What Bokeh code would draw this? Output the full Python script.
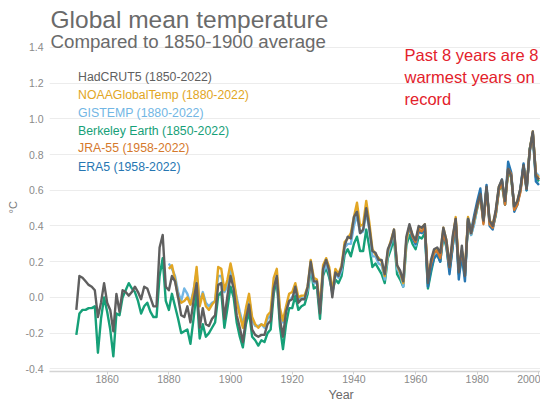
import math
from bokeh.plotting import figure
from bokeh.models import Range1d, FixedTicker, NumeralTickFormatter, Label, ColumnDataSource, Title
from bokeh.embed import file_html
from bokeh.resources import INLINE

# ---------------- data (anomaly vs 1850-1900, degC) ----------------
hadcrut5_years = list(range(1850, 2001))
hadcrut5 = [
    -0.07, 0.12, 0.11, 0.09, 0.07, 0.06, 0.04, -0.11, -0.03, 0.08,
    -0.03, -0.07, -0.19, 0.02, -0.08, 0.04, 0.03, 0.01, 0.03, 0.06,
    0.03, -0.01, 0.06, 0.05, 0.00, -0.05, -0.05, 0.28, 0.35, 0.06,
    0.04, 0.12, 0.09, 0.00, -0.10, -0.11, -0.05, -0.14, -0.02, 0.08,
    -0.17, -0.06, -0.15, -0.16, -0.12, -0.10, 0.07, 0.08, -0.12, 0.01,
    0.12, 0.05, -0.10, -0.17, -0.25, -0.12, -0.04, -0.18, -0.21, -0.22,
    -0.21, -0.21, -0.15, -0.13, 0.05, 0.12, -0.12, -0.22, -0.08, -0.02,
    -0.01, 0.06, -0.03, -0.01, -0.01, 0.06, 0.20, 0.09, 0.09, -0.09,
    0.16, 0.21, 0.15, 0.00, 0.14, 0.12, 0.17, 0.29, 0.34, 0.33,
    0.45, 0.48, 0.36, 0.38, 0.50, 0.39, 0.26, 0.25, 0.21, 0.21,
    0.13, 0.27, 0.31, 0.38, 0.18, 0.15, 0.09, 0.34, 0.41, 0.35,
    0.32, 0.40, 0.39, 0.41, 0.08, 0.21, 0.27, 0.28, 0.25, 0.39,
    0.32, 0.17, 0.34, 0.44, 0.14, 0.29, 0.12, 0.44, 0.36, 0.44,
    0.52, 0.58, 0.43, 0.62, 0.43, 0.40, 0.49, 0.62, 0.66, 0.54,
    0.72, 0.68, 0.51, 0.54, 0.61, 0.74, 0.61, 0.82, 0.93, 0.68,
    0.66,
]

berkeley_years = list(range(1850, 2001))
berkeley = [
    -0.21, -0.09, -0.07, -0.07, -0.06, -0.06, -0.05, -0.31, -0.12, 0.00,
    -0.08, -0.18, -0.33, -0.09, -0.10, 0.00, 0.04, 0.08, 0.05, 0.03,
    -0.02, -0.09, -0.05, -0.03, -0.08, -0.11, -0.11, 0.12, 0.22, -0.02,
    -0.07, 0.02, -0.05, -0.12, -0.20, -0.19, -0.18, -0.26, -0.12, 0.03,
    -0.23, -0.15, -0.22, -0.20, -0.17, -0.14, 0.01, 0.03, -0.17, -0.06,
    0.06, 0.00, -0.14, -0.22, -0.28, -0.15, -0.08, -0.22, -0.24, -0.27,
    -0.24, -0.25, -0.20, -0.18, 0.02, 0.10, -0.16, -0.29, -0.15, -0.06,
    -0.06, 0.01, -0.07, -0.05, -0.04, 0.02, 0.16, 0.05, 0.06, -0.12,
    0.12, 0.17, 0.11, 0.03, 0.10, 0.08, 0.12, 0.24, 0.27, 0.23,
    0.30, 0.34, 0.26, 0.26, 0.38, 0.28, 0.17, 0.19, 0.16, 0.13,
    0.08, 0.22, 0.27, 0.33, 0.13, 0.10, 0.06, 0.29, 0.35, 0.30,
    0.27, 0.34, 0.33, 0.36, 0.05, 0.14, 0.22, 0.24, 0.20, 0.35,
    0.28, 0.15, 0.28, 0.42, 0.13, 0.22, 0.12, 0.42, 0.35, 0.42,
    0.50, 0.57, 0.42, 0.61, 0.42, 0.39, 0.46, 0.60, 0.63, 0.52,
    0.71, 0.67, 0.50, 0.53, 0.60, 0.74, 0.60, 0.83, 0.91, 0.67,
    0.65,
]

noaa_years = list(range(1880, 2001))
noaa = [
    0.16, 0.18, 0.10, 0.00, -0.03, -0.02, 0.00, -0.04, 0.03, 0.17,
    -0.05, 0.02, -0.05, -0.07, -0.04, -0.02, 0.17, 0.16, 0.04, 0.10,
    0.19, 0.11, -0.02, -0.10, -0.17, -0.06, 0.02, -0.11, -0.15, -0.17,
    -0.15, -0.16, -0.10, -0.08, 0.11, 0.16, -0.06, -0.13, -0.05, 0.02,
    0.03, 0.08, 0.00, 0.01, 0.01, 0.06, 0.21, 0.11, 0.10, -0.05,
    0.18, 0.22, 0.17, 0.03, 0.16, 0.13, 0.18, 0.31, 0.33, 0.36,
    0.45, 0.53, 0.40, 0.41, 0.54, 0.42, 0.27, 0.24, 0.22, 0.20,
    0.12, 0.26, 0.32, 0.38, 0.18, 0.14, 0.08, 0.32, 0.40, 0.35,
    0.31, 0.39, 0.39, 0.41, 0.12, 0.19, 0.26, 0.27, 0.24, 0.39,
    0.32, 0.18, 0.32, 0.45, 0.17, 0.26, 0.15, 0.45, 0.37, 0.43,
    0.52, 0.56, 0.44, 0.61, 0.43, 0.41, 0.48, 0.62, 0.65, 0.55,
    0.70, 0.68, 0.50, 0.54, 0.61, 0.72, 0.62, 0.83, 0.93, 0.69,
    0.67,
]

gistemp_years = list(range(1880, 2001))
gistemp = [
    0.19, 0.16, 0.12, 0.03, -0.02, 0.05, 0.02, -0.04, 0.04, 0.14,
    -0.03, 0.03, -0.03, -0.05, -0.03, -0.02, 0.12, 0.12, 0.03, 0.06,
    0.15, 0.08, 0.00, -0.08, -0.15, -0.07, 0.00, -0.13, -0.16, -0.16,
    -0.15, -0.17, -0.12, -0.10, 0.06, 0.11, -0.08, -0.14, -0.08, -0.02,
    0.00, 0.04, -0.01, 0.00, -0.01, 0.04, 0.17, 0.08, 0.08, -0.06,
    0.14, 0.18, 0.14, 0.02, 0.13, 0.11, 0.15, 0.28, 0.30, 0.30,
    0.40, 0.46, 0.36, 0.37, 0.48, 0.38, 0.23, 0.23, 0.19, 0.18,
    0.10, 0.24, 0.30, 0.37, 0.16, 0.13, 0.06, 0.31, 0.39, 0.34,
    0.29, 0.37, 0.37, 0.40, 0.10, 0.17, 0.24, 0.26, 0.22, 0.37,
    0.30, 0.16, 0.30, 0.43, 0.15, 0.24, 0.13, 0.43, 0.35, 0.41,
    0.51, 0.57, 0.43, 0.61, 0.42, 0.40, 0.47, 0.61, 0.65, 0.54,
    0.71, 0.69, 0.49, 0.52, 0.60, 0.74, 0.62, 0.81, 0.92, 0.70,
    0.68,
]

jra55_years = list(range(1958, 2001))
jra55 = [
    0.40, 0.34, 0.31, 0.38, 0.37, 0.40, 0.11, 0.19, 0.25, 0.26,
    0.22, 0.37, 0.30, 0.17, 0.31, 0.44, 0.16, 0.26, 0.14, 0.43,
    0.36, 0.44, 0.51, 0.57, 0.41, 0.61, 0.41, 0.39, 0.47, 0.60,
    0.64, 0.52, 0.72, 0.69, 0.49, 0.52, 0.59, 0.73, 0.61, 0.82,
    0.92, 0.69, 0.66,
]

era5_years = list(range(1958, 2001))
era5 = [
    0.39, 0.33, 0.30, 0.37, 0.36, 0.38, 0.06, 0.16, 0.22, 0.24,
    0.20, 0.36, 0.29, 0.13, 0.28, 0.43, 0.10, 0.24, 0.09, 0.44,
    0.37, 0.46, 0.54, 0.61, 0.42, 0.63, 0.40, 0.38, 0.47, 0.61,
    0.66, 0.52, 0.76, 0.70, 0.48, 0.52, 0.61, 0.75, 0.60, 0.83,
    0.92, 0.65, 0.63,
]

legend_labels = [
    "HadCRUT5 (1850-2022)",
    "NOAAGlobalTemp (1880-2022)",
    "GISTEMP (1880-2022)",
    "Berkeley Earth (1850-2022)",
    "JRA-55 (1958-2022)",
    "ERA5 (1958-2022)",
]
x_ticks = [1860, 1880, 1900, 1920, 1940, 1960, 1980, 2000]
y_ticks = [-0.4, -0.2, 0.0, 0.2, 0.4, 0.6, 0.8, 1.0, 1.2, 1.4]

C_HAD = "#5f5f5f"
C_NOAA = "#e2a624"
C_GISS = "#72b6e4"
C_BERK = "#16a078"
C_JRA = "#d5792c"
C_ERA = "#2676b2"
FONT = "Liberation Sans"

# ---------------- figure ----------------
p = figure(width=540, height=407, output_backend="svg", toolbar_location=None,
           x_range=Range1d(1841.3, 2000.5), y_range=Range1d(-0.415, 1.663),
           min_border_left=49, min_border_right=0, min_border_top=0,
           min_border_bottom=36, background_fill_color="white",
           border_fill_color="white")
p.title.visible = False
p.outline_line_color = None

p.xgrid.visible = False
p.ygrid.grid_line_color = "#ececec"
p.ygrid.grid_line_width = 1
p.ygrid.ticker = FixedTicker(ticks=y_ticks)

p.yaxis.ticker = FixedTicker(ticks=y_ticks)
p.yaxis.formatter = NumeralTickFormatter(format="0.0")
p.yaxis.axis_line_color = None
p.yaxis.major_tick_line_color = None
p.yaxis.minor_tick_line_color = None
p.yaxis.major_tick_out = 0
p.yaxis.major_label_standoff = 6
p.yaxis.major_label_text_font = FONT
p.yaxis.major_label_text_font_size = "10.5px"
p.yaxis.major_label_text_color = "#8a8a8a"

p.xaxis.ticker = FixedTicker(ticks=x_ticks)
p.xaxis.axis_line_color = "#d4d4d4"
p.xaxis.axis_line_width = 1.5
p.xaxis.major_tick_line_color = "#cfcfcf"
p.xaxis.major_tick_out = 3
p.xaxis.major_tick_in = 0
p.xaxis.minor_tick_line_color = None
p.xaxis.major_label_standoff = 0
p.xaxis.major_label_text_font = FONT
p.xaxis.major_label_text_font_size = "10.5px"
p.xaxis.major_label_text_color = "#8a8a8a"

# axis titles as layout-managed titles (not clipped by the frame)
p.add_layout(Title(text="Year", align="left", offset=279, standoff=0,
                   text_font=FONT, text_font_size="12.5px",
                   text_font_style="normal", text_color="#6a6a6a"), "below")
p.add_layout(Title(text="°C", align="left", offset=158, standoff=7,
                   text_font=FONT, text_font_size="11px",
                   text_font_style="normal", text_color="#7a7a7a"), "left")

series = [
    (berkeley_years, berkeley, C_BERK),
    (gistemp_years, gistemp, C_GISS),
    (noaa_years, noaa, C_NOAA),
    (era5_years, era5, C_ERA),
    (jra55_years, jra55, C_JRA),
    (hadcrut5_years, hadcrut5, C_HAD),
]
for yrs, vals, col in series:
    src = ColumnDataSource(dict(year=yrs, value=vals))
    p.line("year", "value", source=src, line_color=col, line_width=2.4,
           line_join="round")

# ---------------- texts (screen units, relative to the frame) ----------------
def add_label(text, x, y, size, color, align="left", baseline="alphabetic"):
    p.add_layout(Label(x=x, y=y, x_units="screen", y_units="screen", text=text,
                       text_font=FONT, text_font_size=size, text_color=color,
                       text_align=align, text_baseline=baseline))

add_label("Global mean temperature", 1, 352, "24.5px", "#6a6a6a")
add_label("Compared to 1850-1900 average", 1, 330, "18.7px", "#6a6a6a")

leg_colors = [C_HAD, C_NOAA, C_GISS, C_BERK, C_JRA, C_ERA]
leg_y = [294.7, 276.7, 259.0, 240.7, 223.3, 205.0]
for t, c, yy in zip(legend_labels, leg_colors, leg_y):
    add_label(t, 28.5, yy, "12.3px", c)

red_lines = ["Past 8 years are 8", "warmest years on", "record"]
for t, yy in zip(red_lines, [316.7, 294.3, 272.7]):
    add_label(t, 355, yy, "16.5px", "#e3212b")

open("out.html", "w").write(file_html(p, INLINE))
